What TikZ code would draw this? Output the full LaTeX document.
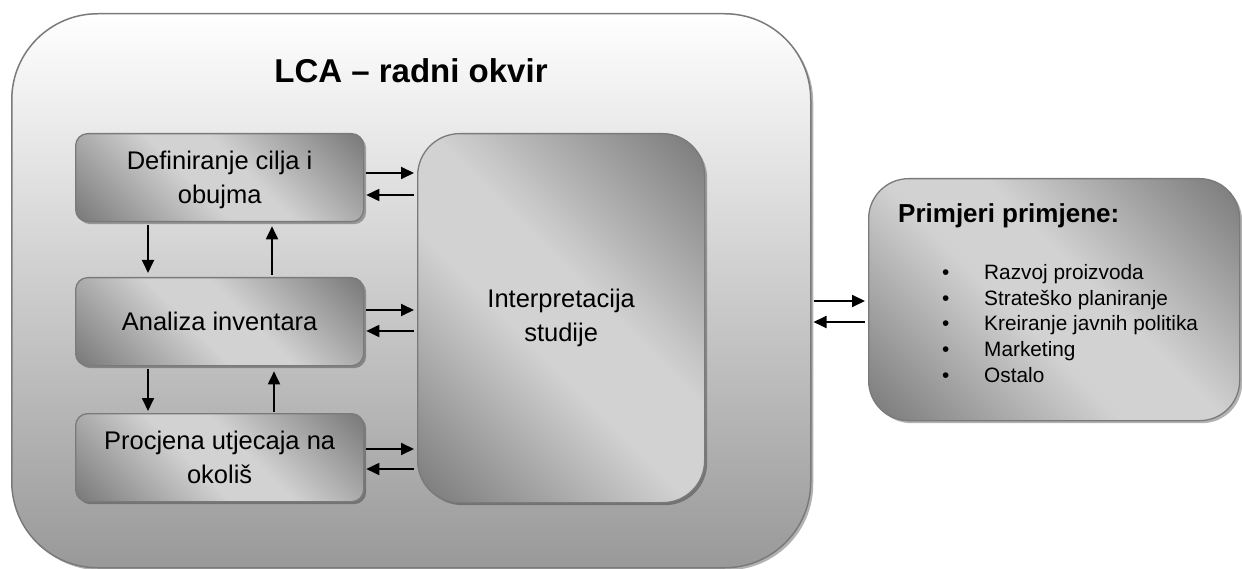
\documentclass[tikz,border=0pt]{standalone}
\usepackage{fontspec}
\setmainfont{Liberation Sans}
\usetikzlibrary{arrows.meta,shadows,calc}
\definecolor{bdark}{HTML}{646464}
\definecolor{blight}{HTML}{D2D2D2}
\definecolor{bline}{HTML}{7A7A7A}
\definecolor{outerbot}{HTML}{999999}
\pgfdeclareverticalshading{boxshade}{100bp}{color(0bp)=(bdark); color(8bp)=(bdark); color(44bp)=(blight); color(56bp)=(blight); color(92bp)=(bdark); color(100bp)=(bdark)}
\tikzset{
  softshadow/.style={drop shadow={shadow xshift=2.5pt, shadow yshift=-2.5pt, opacity=0.3, fill=black}},
  box/.style={draw=bline, line width=1.3pt, rounded corners=12pt,
    shade, shading=boxshade, shading angle=-45,
    anchor=north west, inner sep=0pt, align=center,
    font=\fontsize{25.5pt}{34pt}\selectfont, softshadow},
  arr/.style={line width=1.8pt, -{Triangle[length=13pt,width=12pt]}},
}
\begin{document}
\begin{tikzpicture}[x=1pt,y=-1pt]
\useasboundingbox (0,0) rectangle (1242,569);
\fill[white] (0,0) rectangle (1242,569);
% outer frame
\node[draw=bline, line width=1.5pt, rounded corners=86pt, top color=white, bottom color=outerbot,
  minimum width=799, minimum height=554, anchor=north west, inner sep=0pt, softshadow] (frame) at (11,13) {};
\node[font=\bfseries\fontsize{33pt}{40pt}\selectfont, inner sep=0pt] (title) at (411,71) {LCA – radni okvir};
% inner boxes
\node[box, minimum width=288, minimum height=88] (def) at (75,133) {Definiranje cilja i\\\raisebox{0pt}[\height][0pt]{obujma}};
\node[box, minimum width=288, minimum height=88] (inv) at (75,277) {Analiza inventara};
\node[box, minimum width=288, minimum height=88] (lcia) at (75,413) {Procjena utjecaja na\\okoliš};
\node[box, rounded corners=42pt, minimum width=287, minimum height=369] (interp) at (417,133) {Interpretacija\\studije};
\node[box, rounded corners=40pt, minimum width=371, minimum height=242] (appl) at (868,178) {};
% application text
\node[anchor=base west, inner sep=0pt, font=\bfseries\fontsize{26pt}{30pt}\selectfont] (head) at (898,223) {Primjeri primjene:};
\foreach \t [count=\k from 0] in {Razvoj proizvoda, Strateško planiranje, Kreiranje javnih politika, Marketing, Ostalo}
  \node[anchor=base west, inner sep=0pt, font=\fontsize{20.8pt}{25pt}\selectfont] (item\k) at (942,{279.3+25.8*\k}) {\makebox[42pt][l]{•}\t};
% horizontal arrows
\draw[arr, shorten <=2pt, shorten >=3pt] (def.east |- 0,173) -- (interp.west |- 0,173);
\draw[arr, shorten <=3pt, shorten >=2pt] (interp.west |- 0,195) -- (def.east |- 0,195);
\draw[arr, shorten <=2pt, shorten >=3pt] (inv.east |- 0,310) -- (interp.west |- 0,310);
\draw[arr, shorten <=3pt, shorten >=2pt] (interp.west |- 0,331) -- (inv.east |- 0,331);
\draw[arr, shorten <=2pt, shorten >=3pt] (lcia.east |- 0,449) -- (interp.west |- 0,449);
\draw[arr, shorten <=3pt, shorten >=2pt] (interp.west |- 0,469) -- (lcia.east |- 0,469);
\draw[arr, shorten <=2pt, shorten >=3pt] (frame.east |- 0,301) -- (appl.west |- 0,301);
\draw[arr, shorten <=3pt, shorten >=2pt] (appl.west |- 0,322) -- (frame.east |- 0,322);
% vertical arrows
\draw[arr, shorten <=3pt, shorten >=4pt] (def.south -| 148,0) -- (inv.north -| 148,0);
\draw[arr, shorten <=2pt, shorten >=4pt] (inv.north -| 272,0) -- (def.south -| 272,0);
\draw[arr, shorten <=3pt, shorten >=2pt] (inv.south -| 148,0) -- (lcia.north -| 148,0);
\draw[arr, shorten <=1pt, shorten >=5pt] (lcia.north -| 274,0) -- (inv.south -| 274,0);
\end{tikzpicture}
\end{document}
